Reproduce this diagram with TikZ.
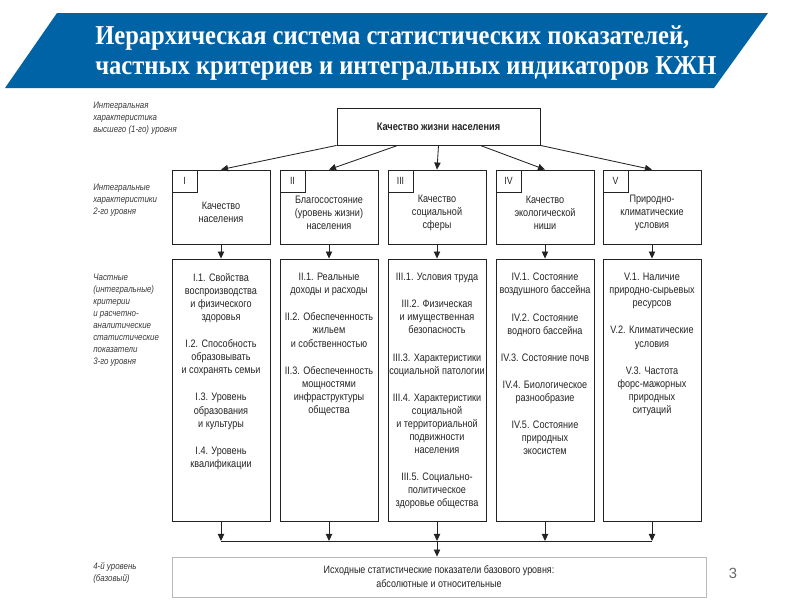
\documentclass[tikz,border=0pt]{standalone}
\usepackage{fontspec}
\setmainfont{Liberation Sans}
\newfontfamily\narrowsans[FakeStretch=0.84]{Liberation Sans}
\newfontfamily\titleserif[FakeStretch=0.9]{Liberation Serif}
\usetikzlibrary{arrows.meta,calc,positioning}
\definecolor{bannerblue}{RGB}{0,99,166}
\definecolor{inkgray}{RGB}{35,35,35}

\begin{document}
\begin{tikzpicture}[x=0.025cm, y=-0.025cm,
                box/.style={draw=inkgray, line width=0.6pt, inner sep=0pt},
                qbox/.style={box, minimum width=2.45cm, minimum height=1.85cm},
                cbox/.style={box, minimum width=2.45cm, minimum height=6.55cm},
                numbox/.style={box, anchor=north west, minimum width=0.625cm, minimum height=0.55cm, text=inkgray, font=\narrowsans\fontsize{7.4}{9}\selectfont},
                itemtext/.style={align=center, inner sep=0pt, text=inkgray, font=\narrowsans\fontsize{7.7}{9.3}\selectfont},
                sidetext/.style={anchor=north west, align=left, inner sep=0pt, text=inkgray!90, font=\narrowsans\itshape\fontsize{6.7}{8.5}\selectfont},
                arr/.style={line width=0.6pt, draw=inkgray, -{Triangle[length=5pt,width=4.5pt]}}]
                \useasboundingbox (0,0) rectangle (800,600);
                \fill[bannerblue] (57,13) -- (768,13) -- (714,88) -- (5,88) -- cycle;
                \node[anchor=west, align=left, text=white, inner sep=0pt, font=\titleserif\bfseries\fontsize{19.4}{21.5}\selectfont] (title) at (95,53) {Иерархическая система статистических показателей,\\частных критериев и интегральных индикаторов КЖН};
                \node[sidetext] (lvl1) at (93,102) {Интегральная\\характеристика\\высшего (1-го) уровня};
                \node[sidetext] (lvl2) at (93,184) {Интегральные\\характеристики\\2-го уровня};
                \node[sidetext] (lvl3) at (93,274) {Частные\\(интегральные)\\критерии\\и расчетно-\\аналитические\\статистические\\показатели\\3-го уровня};
                \node[sidetext] (lvl4) at (93,562) {4-й уровень\\(базовый)};
                \node[box, minimum width=5.075cm, minimum height=0.925cm, text=inkgray, font=\narrowsans\bfseries\fontsize{7.8}{9}\selectfont] (kzhn) at (438.5,126.5) {Качество жизни населения};
                \foreach \i/\x/\r in {1/221/I, 2/329/II, 3/437/III, 4/545/IV, 5/652/V} {
                  \node[qbox] (q\i) at (\x,207) {};
                  \node[numbox] (num\i) at (q\i.north west) {\r};
                  \node[cbox] (c\i) at (\x,390) {};
                }
                \node[itemtext] (qt1) at ([yshift=-0.14cm]q1.center) {Качество\\населения};
                \node[itemtext] (qt2) at ([yshift=-0.14cm]q2.center) {Благосостояние\\(уровень жизни)\\населения};
                \node[itemtext] (qt3) at ([yshift=-0.14cm]q3.center) {Качество\\социальной\\сферы};
                \node[itemtext] (qt4) at ([yshift=-0.14cm]q4.center) {Качество\\экологической\\ниши};
                \node[itemtext] (qt5) at ([yshift=-0.14cm]q5.center) {Природно-\\климатические\\условия};
                \node[itemtext, anchor=north] (ct1) at ([yshift=-0.36cm]c1.north) {I.1. Свойства\\воспроизводства\\и физического\\здоровья\\[10pt]I.2. Способность\\образовывать\\и сохранять семьи\\[10pt]I.3. Уровень\\образования\\и культуры\\[10pt]I.4. Уровень\\квалификации};
                \node[itemtext, anchor=north] (ct2) at ([yshift=-0.36cm]c2.north) {II.1. Реальные\\доходы и расходы\\[10pt]II.2. Обеспеченность\\жильем\\и собственностью\\[10pt]II.3. Обеспеченность\\мощностями\\инфраструктуры\\общества};
                \node[itemtext, anchor=north] (ct3) at ([yshift=-0.36cm]c3.north) {III.1. Условия труда\\[10pt]III.2. Физическая\\и имущественная\\безопасность\\[10pt]III.3. Характеристики\\социальной патологии\\[10pt]III.4. Характеристики\\социальной\\и территориальной\\подвижности\\населения\\[10pt]III.5. Социально-\\политическое\\здоровье общества};
                \node[itemtext, anchor=north] (ct4) at ([yshift=-0.36cm]c4.north) {IV.1. Состояние\\воздушного бассейна\\[10pt]IV.2. Состояние\\водного бассейна\\[10pt]IV.3. Состояние почв\\[10pt]IV.4. Биологическое\\разнообразие\\[10pt]IV.5. Состояние\\природных\\экосистем};
                \node[itemtext, anchor=north] (ct5) at ([yshift=-0.36cm]c5.north) {V.1. Наличие\\природно-сырьевых\\ресурсов\\[10pt]V.2. Климатические\\условия\\[10pt]V.3. Частота\\форс-мажорных\\природных\\ситуаций};
                \node[box, draw=gray!55, minimum width=13.35cm, minimum height=1cm, align=center, text=inkgray, font=\narrowsans\fontsize{7.6}{10}\selectfont] (base) at (439,577) {Исходные статистические показатели базового уровня:\\абсолютные и относительные};
                \node[inner sep=0pt, text=gray!80!black, font=\fontsize{10.5}{12}\selectfont] (page) at (733,573) {3};
                \coordinate (bus) at (437,541);
                \foreach \f/\i in {0/1, 0.3/2, 0.5/3, 0.705/4, 1/5} {
                  \draw[arr] ($(kzhn.south west)!\f!(kzhn.south east)$) -- (q\i.north);
                  \draw[arr] (q\i) -- (c\i);
                  \draw[arr] (c\i) -- (c\i |- bus);
                }
                \draw[line width=0.6pt, draw=inkgray] (c1.south |- bus) -- (c5.south |- bus);
                \draw[arr] (bus) -- (bus |- base.north);
              \end{tikzpicture}
\end{document}
